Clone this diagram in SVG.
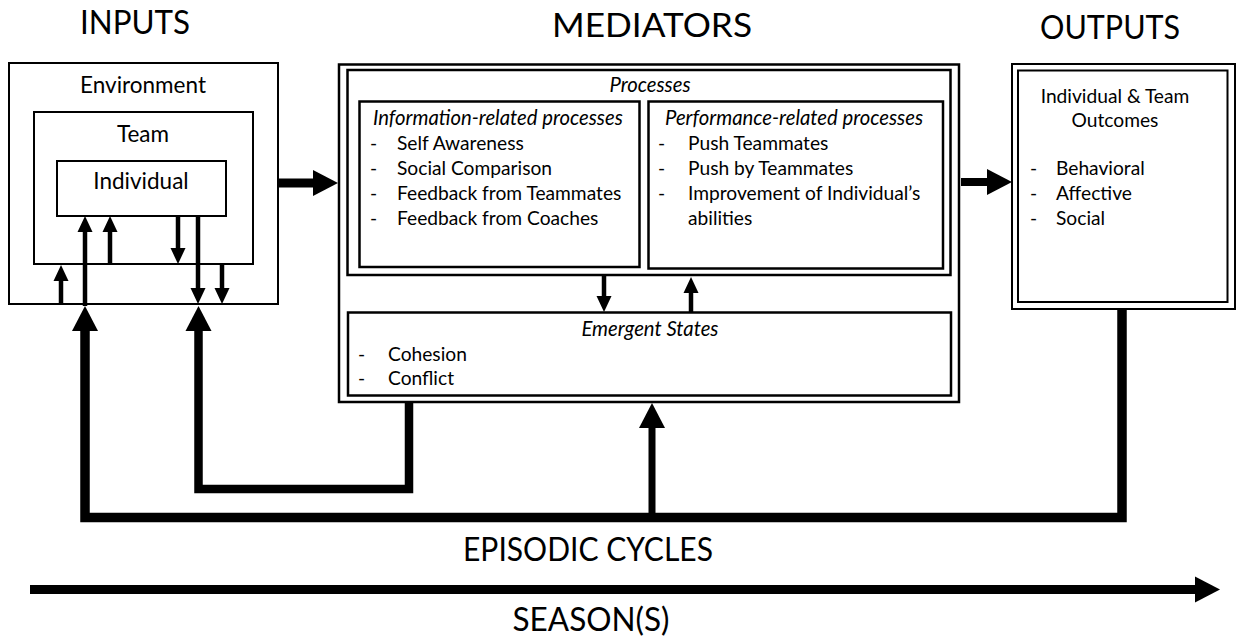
<svg xmlns="http://www.w3.org/2000/svg" width="1236" height="641" viewBox="0 0 1236 641">
<defs>
<style>
text{font-family:Lato,"Noto Sans","Liberation Sans",sans-serif;fill:#000}
.h{font-size:33px}
.b{font-size:19.2px}
.bl{font-size:22.5px}
.i{font-style:italic;font-size:20.3px}
.box{fill:#fff;stroke:#000;stroke-width:2}
.box2{fill:none;stroke:#000;stroke-width:2.5}
.thin{fill:none;stroke:#000;stroke-width:4.5}
.big{fill:none;stroke:#000;stroke-linejoin:miter}
</style>
<marker id="sm" markerUnits="userSpaceOnUse" markerWidth="16" markerHeight="15" refX="6" refY="7.5" orient="auto" overflow="visible">
<path d="M0,0 L16,7.5 L0,15 Z" fill="#000"/>
</marker>
<marker id="bg" markerUnits="userSpaceOnUse" markerWidth="25" markerHeight="26" refX="10" refY="13" orient="auto" overflow="visible">
<path d="M0,0 L25,13 L0,26 Z" fill="#000"/>
</marker>
</defs>
<rect width="1236" height="641" fill="#fff"/>

<g id="headings">
<text class="h" x="135" y="34" text-anchor="middle" textLength="110" lengthAdjust="spacingAndGlyphs">INPUTS</text>
<text class="h" x="652" y="37" text-anchor="middle" textLength="200" lengthAdjust="spacingAndGlyphs">MEDIATORS</text>
<text class="h" x="1110" y="39" text-anchor="middle" textLength="140" lengthAdjust="spacingAndGlyphs">OUTPUTS</text>
</g>

<g id="environment">
<rect class="box" x="9" y="63" width="269" height="241"/>
<text class="bl" x="143" y="93" text-anchor="middle">Environment</text>
</g>
<g id="team">
<rect class="box" x="34" y="112" width="219" height="152"/>
<text class="bl" x="143" y="142" text-anchor="middle">Team</text>
</g>
<g id="individual">
<rect class="box" x="57" y="161" width="169" height="55"/>
<text class="bl" x="141" y="189" text-anchor="middle">Individual</text>
</g>

<g id="mediators">
<rect class="box2" x="339" y="64.5" width="620" height="337.5"/>
</g>
<g id="processes">
<rect class="box2" x="347.5" y="70" width="603" height="205"/>
<text class="i" x="650" y="92" text-anchor="middle">Processes</text>
</g>
<g id="information">
<rect class="box2" x="359.5" y="101.5" width="280" height="165.5"/>
<text class="i" x="373" y="125">Information-related processes</text>
<text class="b" x="370" y="150">-</text><text class="b" x="397" y="150">Self Awareness</text>
<text class="b" x="370" y="175">-</text><text class="b" x="397" y="175">Social Comparison</text>
<text class="b" x="370" y="200">-</text><text class="b" x="397" y="200">Feedback from Teammates</text>
<text class="b" x="370" y="225">-</text><text class="b" x="397" y="225">Feedback from Coaches</text>
</g>
<g id="performance">
<rect class="box2" x="648.5" y="101.5" width="294.5" height="167"/>
<text class="i" x="665" y="125">Performance-related processes</text>
<text class="b" x="658" y="150">-</text><text class="b" x="688" y="150">Push Teammates</text>
<text class="b" x="658" y="175">-</text><text class="b" x="688" y="175">Push by Teammates</text>
<text class="b" x="658" y="200">-</text><text class="b" x="688" y="200">Improvement of Individual’s</text>
<text class="b" x="688" y="225">abilities</text>
</g>
<g id="emergent">
<rect class="box2" x="348" y="312.5" width="603" height="83"/>
<text class="i" x="650" y="336" text-anchor="middle">Emergent States</text>
<text class="b" x="358" y="361">-</text><text class="b" x="388" y="361">Cohesion</text>
<text class="b" x="358" y="385">-</text><text class="b" x="388" y="385">Conflict</text>
</g>

<g id="outputs">
<rect class="box" x="1012" y="64" width="223" height="245"/>
<rect class="box" x="1018" y="70.5" width="209.5" height="231.5"/>
<text class="b" x="1115" y="103" text-anchor="middle">Individual &amp; Team</text>
<text class="b" x="1115" y="127" text-anchor="middle">Outcomes</text>
<text class="b" x="1030" y="175">-</text><text class="b" x="1056" y="175">Behavioral</text>
<text class="b" x="1030" y="200">-</text><text class="b" x="1056" y="200">Affective</text>
<text class="b" x="1030" y="225">-</text><text class="b" x="1056" y="225">Social</text>
</g>

<g id="connectors">
<line class="thin" x1="85" y1="306" x2="85" y2="226" marker-end="url(#sm)"/>
<line class="thin" x1="110" y1="264" x2="110" y2="226" marker-end="url(#sm)"/>
<line class="thin" x1="178" y1="216" x2="178" y2="254" marker-end="url(#sm)"/>
<line class="thin" x1="198" y1="216" x2="198" y2="294" marker-end="url(#sm)"/>
<line class="thin" x1="61" y1="304" x2="61" y2="275" marker-end="url(#sm)"/>
<line class="thin" x1="222" y1="264" x2="222" y2="294" marker-end="url(#sm)"/>
<line class="thin" x1="604" y1="276" x2="604" y2="302" marker-end="url(#sm)"/>
<line class="thin" x1="691" y1="312" x2="691" y2="287" marker-end="url(#sm)"/>
<path class="big" stroke-width="9.5" d="M1122,309 V517.5 H85 V321" marker-end="url(#bg)"/>
<path class="big" stroke-width="8.5" d="M409,402 V489 H198.5 V321" marker-end="url(#bg)"/>
<path class="big" stroke-width="7" d="M652,517 V418" marker-end="url(#bg)"/>
<path class="big" stroke-width="9" d="M278,183 H323" marker-end="url(#bg)"/>
<path class="big" stroke-width="8" d="M961,182 H997" marker-end="url(#bg)"/>
<path class="big" stroke-width="9" d="M30,589.5 H1205" marker-end="url(#bg)"/>
</g>

<g id="labels">
<text class="h" x="588" y="561" text-anchor="middle" textLength="250" lengthAdjust="spacingAndGlyphs">EPISODIC CYCLES</text>
<text class="h" x="591" y="631" text-anchor="middle" textLength="157" lengthAdjust="spacingAndGlyphs">SEASON(S)</text>
</g>
</svg>
